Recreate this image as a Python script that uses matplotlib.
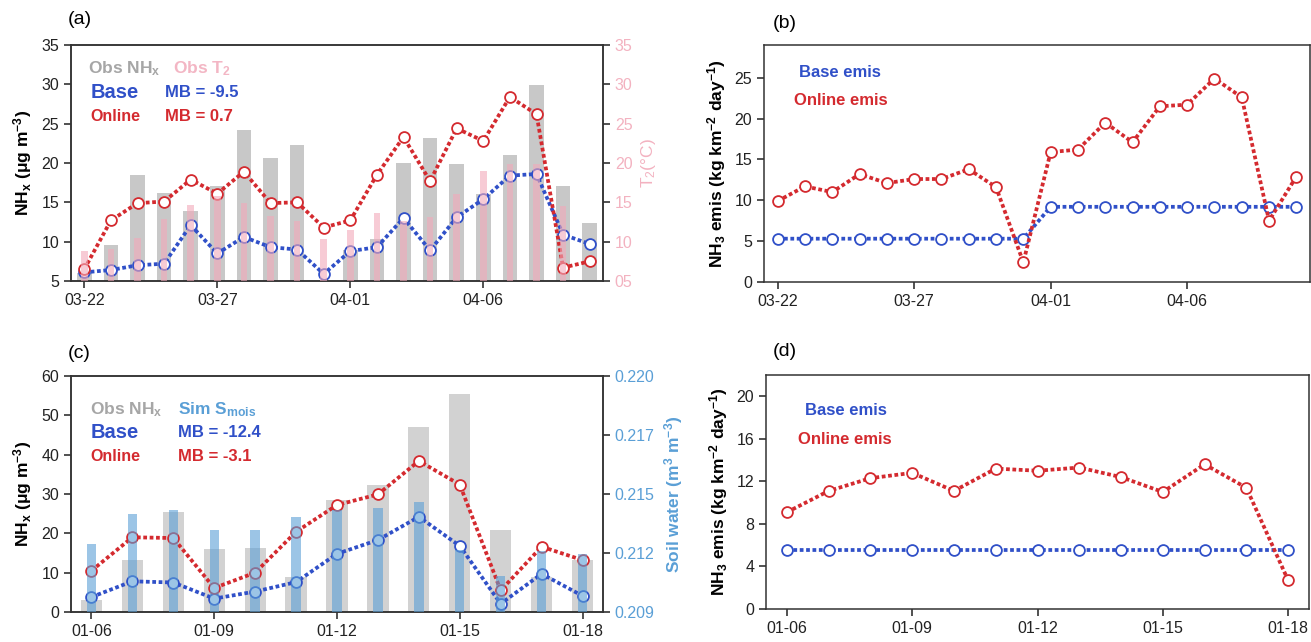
import numpy as np
import matplotlib
matplotlib.use("Agg")
import matplotlib.pyplot as plt

plt.rcParams["font.family"] = ["Liberation Sans", "DejaVu Sans"]
plt.rcParams["mathtext.default"] = "regular"

# ---------------------------------------------------------------------------
# Data
# ---------------------------------------------------------------------------
days_ab = ["03-22", "03-23", "03-24", "03-25", "03-26", "03-27", "03-28",
           "03-29", "03-30", "03-31", "04-01", "04-02", "04-03", "04-04",
           "04-05", "04-06", "04-07", "04-08", "04-09", "04-10"]
obs_nhx_a = [6.0, 9.6, 18.5, 16.2, 13.9, 17.1, 24.2, 20.6, 22.3, np.nan,
             9.0, 10.3, 20.0, 23.2, 19.9, 16.1, 21.0, 29.9, 17.1, 12.4]
obs_t2_a = [8.8, 9.1, 10.5, 12.9, 14.7, 15.8, 14.9, 13.2, 12.6, 10.3,
            11.5, 13.6, 12.6, 13.1, 16.0, 19.0, 19.9, 19.9, 14.5, np.nan]
base_a = [6.1, 6.4, 7.0, 7.2, 12.1, 8.5, 10.6, 9.3, 9.0, 5.9,
          8.8, 9.3, 13.0, 8.9, 13.1, 15.4, 18.4, 18.6, 10.9, 9.7]
online_a = [6.5, 12.7, 14.9, 15.1, 17.9, 16.1, 18.9, 14.9, 15.0, 11.8,
            12.7, 18.5, 23.3, 17.7, 24.4, 22.8, 28.4, 26.2, 6.7, 7.5]

base_emis_b = [5.3] * 10 + [9.2] * 10
online_emis_b = [9.9, 11.7, 11.0, 13.2, 12.1, 12.6, 12.6, 13.8, 11.6, 2.4,
                 15.9, 16.2, 19.5, 17.1, 21.5, 21.7, 24.9, 22.6, 7.5, 12.9]

days_cd = ["01-06", "01-07", "01-08", "01-09", "01-10", "01-11", "01-12",
           "01-13", "01-14", "01-15", "01-16", "01-17", "01-18"]
obs_nhx_c = [3.0, 13.1, 25.4, 16.0, 16.3, 8.9, 28.5, 32.4, 47.1, 55.3,
             20.9, 9.0, 13.1]
smois_c = [0.21216, 0.21355, 0.21377, 0.21281, 0.21281, 0.21344, 0.21375,
           0.21385, 0.21414, 0.21190, 0.21069, 0.21182, 0.21170]
base_c = [3.8, 7.8, 7.5, 3.4, 5.2, 7.6, 14.8, 18.3, 24.2, 16.8, 2.1, 9.7, 4.1]
online_c = [10.5, 19.0, 18.8, 6.1, 10.0, 20.4, 27.2, 29.9, 38.4, 32.4,
            5.5, 16.6, 13.2]

base_emis_d = [5.55] * 13
online_emis_d = [9.1, 11.1, 12.3, 12.8, 11.1, 13.2, 13.0, 13.3, 12.4, 11.0,
                 13.6, 11.4, 2.7]

RED = "#d42a2f"
BLUE = "#3050c8"
GREY = "#c8c8c8"
PINK = "#f2a9b9"
SKY = "#5a9fd6"
TICK_FS = 11.5
LAB_FS = 12.5
TXT_FS = 12


def _series(ax, x, y, color):
    ax.plot(x, y, color=color, lw=2.7, linestyle=(0, (1.0, 0.7)),
            marker="o", ms=7.8, mfc="white", mec=color, mew=1.3, zorder=3)


def _style(ax):
    for sp in ax.spines.values():
        sp.set_linewidth(1.1)
        sp.set_color("#333333")
    ax.tick_params(direction="out", length=5, width=1.1, labelsize=TICK_FS,
                   colors="#222222")


fig = plt.figure(figsize=(13.11, 6.42), dpi=100)
W, H = 1311.0, 642.0


def _axes(l, r, t, b):
    return fig.add_axes([l / W, (H - b) / H, (r - l) / W, (b - t) / H])


ylab = "NH$_x$ (μg m$^{-3}$)"
emislab = "NH$_3$ emis (kg km$^{-2}$ day$^{-1}$)"

# ---------------------------------------------------------------------------
# (a)
# ---------------------------------------------------------------------------
xa = np.arange(len(days_ab))
ax = _axes(71, 603, 45, 281)
ax.bar(xa, np.array(obs_nhx_a) - 5, bottom=5, width=0.55, color=GREY,
       zorder=1)
_series(ax, xa, base_a, BLUE)
_series(ax, xa, online_a, RED)
ax.set_xlim(-0.5, 19.5)
ax.set_ylim(5, 35)
ax.set_yticks(range(5, 36, 5))
ax.set_xticks(xa[::5])
ax.set_xticklabels(days_ab[::5])
ax.set_ylabel(ylab, fontsize=LAB_FS, fontweight="bold", labelpad=5)
_style(ax)
ax2 = ax.twinx()
ax2.bar(xa, np.array(obs_t2_a) - 5, bottom=5, width=0.25, color=PINK,
        alpha=0.6, zorder=4)
ax2.set_ylim(5, 35)
ax2.set_yticks(range(5, 36, 5))
ax2.set_yticklabels(["05", "10", "15", "20", "25", "30", "35"])
_style(ax2)
ax2.tick_params(axis="y", labelcolor="#f3b2c0")
ax2.set_ylabel("T$_2$(°C)", color="#f3b2c0", fontsize=LAB_FS, labelpad=5)

ax.text(0.032, 0.898, "Obs NH$_x$", transform=ax.transAxes, color="#a6a6a6",
        fontsize=12.5, fontweight="bold", va="center")
ax.text(0.192, 0.898, "Obs T$_2$", transform=ax.transAxes, color="#f3b6c4",
        fontsize=12.5, fontweight="bold", va="center")
ax.text(0.036, 0.797, "Base", transform=ax.transAxes, color=BLUE,
        fontsize=14.5, fontweight="bold", va="center")
ax.text(0.177, 0.797, "MB = -9.5", transform=ax.transAxes, color=BLUE,
        fontsize=TXT_FS, fontweight="bold", va="center")
ax.text(0.036, 0.695, "Online", transform=ax.transAxes, color=RED,
        fontsize=11.5, fontweight="bold", va="center")
ax.text(0.177, 0.695, "MB = 0.7", transform=ax.transAxes, color=RED,
        fontsize=TXT_FS, fontweight="bold", va="center")
fig.text(68 / W, 1 - 20 / H, "(a)", fontsize=14, va="center")

# ---------------------------------------------------------------------------
# (b)
# ---------------------------------------------------------------------------
bx = _axes(764, 1310, 45, 282)
_series(bx, xa, base_emis_b, BLUE)
_series(bx, xa, online_emis_b, RED)
bx.set_xlim(-0.5, 19.5)
bx.set_ylim(0, 29)
bx.set_yticks(range(0, 26, 5))
bx.set_xticks(xa[::5])
bx.set_xticklabels(days_ab[::5])
bx.set_ylabel(emislab, fontsize=LAB_FS, fontweight="bold", labelpad=5)
_style(bx)
bx.text(0.064, 0.883, "Base emis", transform=bx.transAxes, color=BLUE,
        fontsize=TXT_FS, fontweight="bold", va="center")
bx.text(0.055, 0.765, "Online emis", transform=bx.transAxes, color=RED,
        fontsize=TXT_FS, fontweight="bold", va="center")
fig.text(773 / W, 1 - 23 / H, "(b)", fontsize=14, va="center")

# ---------------------------------------------------------------------------
# (c)
# ---------------------------------------------------------------------------
xc = np.arange(len(days_cd))
cx = _axes(71, 603, 376, 612)
cx.bar(xc, obs_nhx_c, width=0.52, color="#d2d2d2", zorder=1)
_series(cx, xc, base_c, BLUE)
_series(cx, xc, online_c, RED)
cx.set_xlim(-0.5, 12.5)
cx.set_ylim(0, 60)
cx.set_yticks(range(0, 61, 10))
cx.set_xticks(xc[::3])
cx.set_xticklabels(days_cd[::3])
cx.set_ylabel(ylab, fontsize=LAB_FS, fontweight="bold", labelpad=5)
_style(cx)
cx2 = cx.twinx()
cx2.bar(xc, np.array(smois_c) - 0.209, bottom=0.209, width=0.23, color=SKY,
        alpha=0.6, zorder=4)
cx2.set_ylim(0.209, 0.220)
cx2.set_yticks(np.linspace(0.209, 0.220, 5))
cx2.set_yticklabels(["0.209", "0.212", "0.215", "0.217", "0.220"])
_style(cx2)
cx2.tick_params(axis="y", labelcolor="#5a9fd6")
cx2.set_ylabel("Soil water (m$^3$ m$^{-3}$)", color="#5a9fd6",
               fontsize=LAB_FS, fontweight="bold", labelpad=5)

cx.text(0.036, 0.859, "Obs NH$_x$", transform=cx.transAxes, color="#a6a6a6",
        fontsize=12.5, fontweight="bold", va="center")
cx.text(0.201, 0.859, "Sim S$_{mois}$", transform=cx.transAxes,
        color="#5a9fd6", fontsize=12.5, fontweight="bold", va="center")
cx.text(0.036, 0.760, "Base", transform=cx.transAxes, color=BLUE,
        fontsize=14.5, fontweight="bold", va="center")
cx.text(0.201, 0.760, "MB = -12.4", transform=cx.transAxes, color=BLUE,
        fontsize=TXT_FS, fontweight="bold", va="center")
cx.text(0.036, 0.661, "Online", transform=cx.transAxes, color=RED,
        fontsize=11.5, fontweight="bold", va="center")
cx.text(0.201, 0.661, "MB = -3.1", transform=cx.transAxes, color=RED,
        fontsize=TXT_FS, fontweight="bold", va="center")
fig.text(68 / W, 1 - 353 / H, "(c)", fontsize=14, va="center")

# ---------------------------------------------------------------------------
# (d)
# ---------------------------------------------------------------------------
dx = _axes(766, 1309, 375, 609)
_series(dx, xc, base_emis_d, BLUE)
_series(dx, xc, online_emis_d, RED)
dx.set_xlim(-0.5, 12.5)
dx.set_ylim(0, 22)
dx.set_yticks(range(0, 21, 4))
dx.set_xticks(xc[::3])
dx.set_xticklabels(days_cd[::3])
dx.set_ylabel(emislab, fontsize=LAB_FS, fontweight="bold", labelpad=5)
_style(dx)
dx.text(0.071, 0.847, "Base emis", transform=dx.transAxes, color=BLUE,
        fontsize=TXT_FS, fontweight="bold", va="center")
dx.text(0.059, 0.725, "Online emis", transform=dx.transAxes, color=RED,
        fontsize=TXT_FS, fontweight="bold", va="center")
fig.text(773 / W, 1 - 352 / H, "(d)", fontsize=14, va="center")

fig.savefig("out.png", dpi=100)
